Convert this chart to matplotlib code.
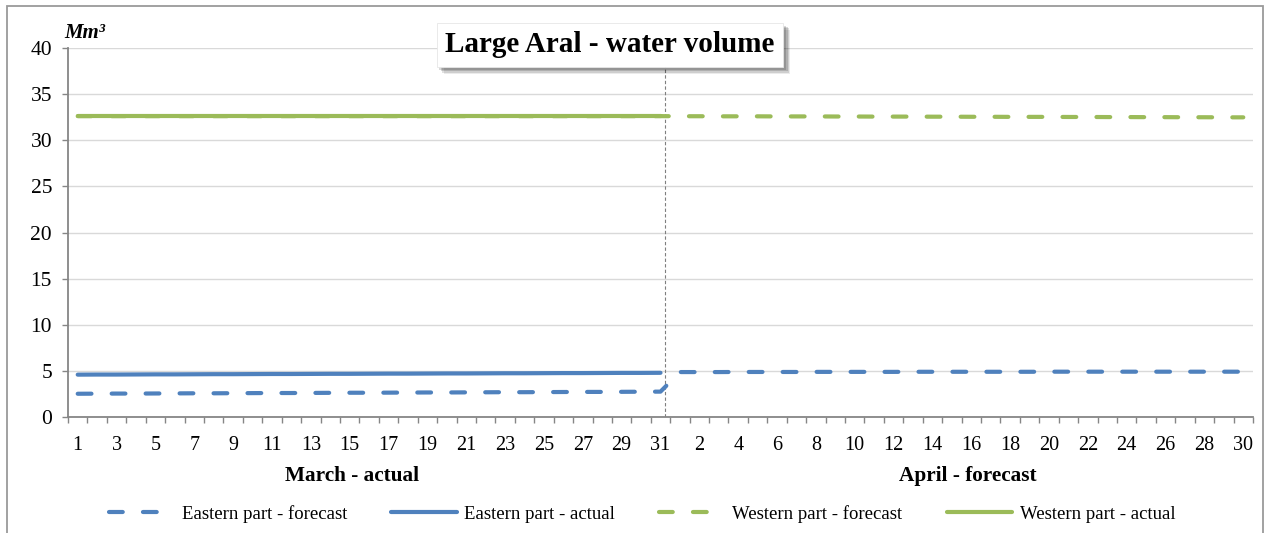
import matplotlib
matplotlib.use("Agg")
import matplotlib.pyplot as plt
from matplotlib import patheffects
from matplotlib.patches import Rectangle
import numpy as np

# categories: March 1-31 (actual) and April 1-30 (forecast)
march_days = list(range(1, 32))
april_days = list(range(1, 31))

east_actual = [4.62, 4.63, 4.63, 4.64, 4.65, 4.65, 4.66, 4.67, 4.67, 4.68,
               4.69, 4.69, 4.70, 4.71, 4.71, 4.72, 4.73, 4.73, 4.74, 4.75,
               4.75, 4.76, 4.77, 4.77, 4.78, 4.79, 4.79, 4.80, 4.81, 4.81, 4.82]
east_forecast_march = [2.55, 2.56, 2.57, 2.57, 2.58, 2.59, 2.60, 2.60, 2.61, 2.62,
                       2.63, 2.63, 2.64, 2.65, 2.66, 2.66, 2.67, 2.68, 2.69, 2.69,
                       2.70, 2.71, 2.72, 2.72, 2.73, 2.74, 2.75, 2.75, 2.76, 2.77, 2.78]
east_forecast_april = [4.90, 4.90, 4.90, 4.91, 4.91, 4.91, 4.91, 4.92, 4.92, 4.92,
                       4.92, 4.92, 4.93, 4.93, 4.93, 4.93, 4.93, 4.93, 4.93, 4.94,
                       4.94, 4.94, 4.94, 4.94, 4.94, 4.94, 4.94, 4.94, 4.94, 4.94]
west_actual = [32.66, 32.66, 32.66, 32.66, 32.66, 32.66, 32.66, 32.66, 32.66, 32.66,
               32.66, 32.66, 32.66, 32.66, 32.66, 32.66, 32.66, 32.66, 32.66, 32.66,
               32.66, 32.66, 32.66, 32.66, 32.66, 32.66, 32.66, 32.66, 32.66, 32.66, 32.66]
west_forecast_march = [32.62, 32.62, 32.62, 32.62, 32.62, 32.62, 32.62, 32.62, 32.62, 32.62,
                       32.62, 32.62, 32.62, 32.62, 32.62, 32.62, 32.62, 32.62, 32.62, 32.62,
                       32.62, 32.62, 32.62, 32.62, 32.62, 32.62, 32.62, 32.62, 32.62, 32.62, 32.62]
west_forecast_april = [32.61, 32.61, 32.60, 32.60, 32.60, 32.59, 32.59, 32.59, 32.58, 32.58,
                       32.57, 32.57, 32.57, 32.56, 32.56, 32.55, 32.55, 32.54, 32.54, 32.54,
                       32.53, 32.53, 32.52, 32.52, 32.51, 32.51, 32.50, 32.50, 32.49, 32.49]

title = "Large Aral - water volume"
unit_label = "Mm³"
group_labels = ["March - actual", "April - forecast"]
series_names = ["Eastern part - forecast", "Eastern part - actual",
                "Western part - forecast", "Western part - actual"]

BLUE = "#4f81bd"
GREEN = "#9bbb59"
GRID = "#d9d9d9"
AXIS = "#868686"
SERIF = ["Liberation Serif", "DejaVu Serif"]

plt.rcParams['font.family'] = SERIF

n_march = len(march_days)
x_all = np.arange(1, n_march + len(april_days) + 1)
x_march = x_all[:n_march]
east_forecast = east_forecast_march + east_forecast_april
west_forecast = west_forecast_march + west_forecast_april

fig = plt.figure(figsize=(12.71, 5.33), dpi=100)
ax = fig.add_axes([68 / 1271, 1 - 417.3 / 533, (1253 - 68) / 1271, (417.3 - 48) / 533])

dash = (3.3, 4.85)
common = dict(lw=3.0, solid_capstyle='round', dash_capstyle='round', zorder=3)
l1, = ax.plot(x_all, east_forecast, color=BLUE, dashes=dash, **common)
l2, = ax.plot(x_march, east_actual, color=BLUE, **common)
l3, = ax.plot(x_all, west_forecast, color=GREEN, dashes=dash, **common)
l4, = ax.plot(x_march, west_actual, color=GREEN, **common)

# separator between actual and forecast
ax.axvline(n_march + 0.25, color="#7f7f7f", lw=0.8, ls=(0, (3, 2)), zorder=2)

ax.set_xlim(0.5, len(x_all) + 0.5)
ax.set_ylim(0, 40)
ax.set_yticks(np.arange(0, 41, 5))
ax.yaxis.grid(True, color=GRID, lw=1.0)
ax.set_axisbelow(True)

for s in ['top', 'right']:
    ax.spines[s].set_visible(False)
for s in ['left', 'bottom']:
    ax.spines[s].set_color(AXIS)
    ax.spines[s].set_linewidth(1.3)

ax.tick_params(axis='y', length=4.5, width=1.0, color=AXIS, labelsize=15.5, pad=7)

# tick marks at category boundaries, labels every second day
ax.set_xticks(np.arange(0.5, len(x_all) + 1, 1.0))
ax.tick_params(axis='x', which='major', length=4.5, width=1.0, color=AXIS, labelbottom=False)
day_labels = march_days + april_days
label_pos = [x for x, d in zip(x_all, day_labels) if d % 2 == (1 if x <= n_march else 0)]
label_txt = [str(day_labels[p - 1]) for p in label_pos]
ax.set_xticks(label_pos, minor=True)
ax.set_xticklabels(label_txt, minor=True)
ax.tick_params(axis='x', which='minor', length=0, labelsize=14.5, pad=13.5)

ax.text(15.1, -6.35, group_labels[0], ha='center', va='center', fontsize=15.3,
        fontweight='bold')
ax.text(46.8, -6.35, group_labels[1], ha='center', va='center', fontsize=15.3,
        fontweight='bold')

fig.text(64 / 1271, 1 - 33 / 533, unit_label, ha='left', va='center', fontsize=15,
         fontweight='bold', fontstyle='italic')

t = fig.text(610 / 1271, 1 - 45 / 533, title, ha='center', va='center', fontsize=21,
             fontweight='bold', zorder=10,
             bbox=dict(boxstyle='square,pad=0.3', fc='white', ec='#e6e6e6', lw=0.6))
t.get_bbox_patch().set_path_effects([
    patheffects.SimplePatchShadow(offset=(5, -5), shadow_rgbFace='#000000', alpha=0.08),
    patheffects.SimplePatchShadow(offset=(4, -4), shadow_rgbFace='#000000', alpha=0.12),
    patheffects.SimplePatchShadow(offset=(3, -3), shadow_rgbFace='#000000', alpha=0.15),
    patheffects.SimplePatchShadow(offset=(2, -2), shadow_rgbFace='#000000', alpha=0.15),
    patheffects.Normal()])

fig.legend([l1, l2, l3, l4], series_names, loc='center', ncol=4,
           bbox_to_anchor=(642 / 1271, 1 - 514 / 533), frameon=False,
           fontsize=13.5, handlelength=3.5, handletextpad=0.4, columnspacing=2.35)

# chart border
fig.patches.append(Rectangle((7 / 1271, -0.02), (1263 - 7) / 1271, 1 - 6 / 533 + 0.02,
                             transform=fig.transFigure, fill=False, ec='#9a9a9a', lw=1.3))

fig.savefig("out.png", dpi=100, facecolor='white')
